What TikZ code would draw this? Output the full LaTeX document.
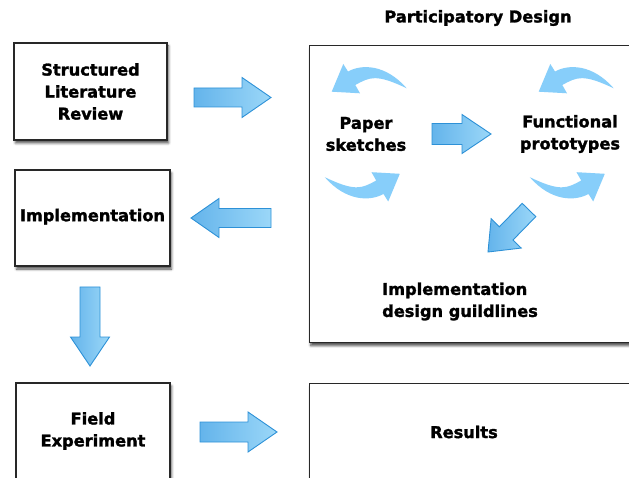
\documentclass[tikz,border=0pt]{standalone}
\usepackage{fontspec}
\setmainfont{DejaVu Sans}[BoldFeatures={FakeBold=1.6}]
\usetikzlibrary{calc,shadows.blur}

\definecolor{boxline}{RGB}{40,40,40}
\definecolor{arrowline}{RGB}{45,145,215}
\definecolor{arrowdark}{RGB}{100,180,235}
\definecolor{arrowlight}{RGB}{155,215,248}
\definecolor{curlblue}{RGB}{135,206,250}

% block arrow from #1 to tip #2: shaft half-width #3, head half-width #4, head length #5
\newcommand\bluearrow[5]{%
  \coordinate (ba-base) at ($(#2)!#5!(#1)$);
  \draw[blockarrow]
    ($(#1)!#3!90:(#2)$) -- ($(ba-base)!#3!90:(#2)$) -- ($(ba-base)!#4!90:(#2)$)
    -- (#2)
    -- ($(ba-base)!#4!-90:(#2)$) -- ($(ba-base)!#3!-90:(#2)$) -- ($(#1)!#3!-90:(#2)$)
    -- cycle;}

\tikzset{
  stagebox/.style={draw=boxline, line width=1.4pt, fill=white, inner sep=1pt,
    align=center, font=\fontsize{16.2}{22}\selectfont\bfseries,
    blur shadow={shadow xshift=1.5pt, shadow yshift=-3pt,
      shadow blur radius=2.5pt, shadow opacity=70}},
  caption/.style={align=center, inner sep=0pt, font=\fontsize{16.2}{22}\selectfont\bfseries},
  blockarrow/.style={draw=arrowline, line width=0.9pt, line join=miter,
    left color=arrowdark, right color=arrowlight},
  curl/.pic={
    \fill[curlblue] (37.2,9.3) .. controls (16,-15) and (-8,-15) .. (-21.5,-7.5)
      -- (-26.2,-15) -- (-37.8,12.7) -- (-9.5,14.3) -- (-14.2,6)
      .. controls (0.3,-2) and (6.7,-5.3) .. (37.2,9.3) -- cycle;}
}

\begin{document}
\begin{tikzpicture}[x=1pt,y=-1pt]
\useasboundingbox (0,0) rectangle (629,478);
\clip (0,0) rectangle (629,478);

% left column of stages
\node[stagebox, minimum width=153pt, minimum height=97pt] (slr) at (90.5,91.5)
  {Structured\\Literature\\Review};
\node[stagebox, minimum width=155pt, minimum height=96pt, text depth=6pt] (impl) at (92.5,218)
  {Implementation};
\node[stagebox, minimum width=154pt, minimum height=96pt] (field) at (93,431)
  {Field\\Experiment};

% right column
\node[stagebox, minimum width=340pt, minimum height=297pt, anchor=north west]
  (pd) at (308.5,45) {};
\node[stagebox, minimum width=340pt, minimum height=96pt, anchor=north west]
  (res) at (308.5,383) {};

\node[caption] (pdtitle) at (478,18) {Participatory Design};
\node[caption] (paper) at (366,134) {Paper\\sketches};
\node[caption] (func) at (570,134) {Functional\\prototypes};
\node[caption, align=left, anchor=west] (guide) at (382,301.5)
  {Implementation\\design guildlines};
\node[caption] (restext) at (464,432) {Results};

% iteration loops around the two design activities
\pic at (369.5,79) {curl};
\pic[rotate=180] at (362,186.5) {curl};
\pic at (576.5,79) {curl};
\pic[rotate=180] at (567,186.5) {curl};

% flow arrows
\coordinate (a1s) at (194,97.5);  \coordinate (a1t) at (271,97.5);
\coordinate (a2s) at (271,218);   \coordinate (a2t) at (191,218);
\coordinate (a3s) at (90,287);    \coordinate (a3t) at (90,366);
\coordinate (a4s) at (200,432);   \coordinate (a4t) at (277,432);
\coordinate (a5s) at (432,134);   \coordinate (a5t) at (491,134);
\coordinate (a6s) at (529,210);   \coordinate (a6t) at (488,252);

\bluearrow{a1s}{a1t}{9.5pt}{20pt}{29pt}
\bluearrow{a2s}{a2t}{9.5pt}{19.5pt}{28pt}
\bluearrow{a3s}{a3t}{10pt}{19.5pt}{29pt}
\bluearrow{a4s}{a4t}{10pt}{20pt}{29pt}
\bluearrow{a5s}{a5t}{10.5pt}{19.5pt}{29pt}
\bluearrow{a6s}{a6t}{9.5pt}{21pt}{26pt}
\end{tikzpicture}
\end{document}
